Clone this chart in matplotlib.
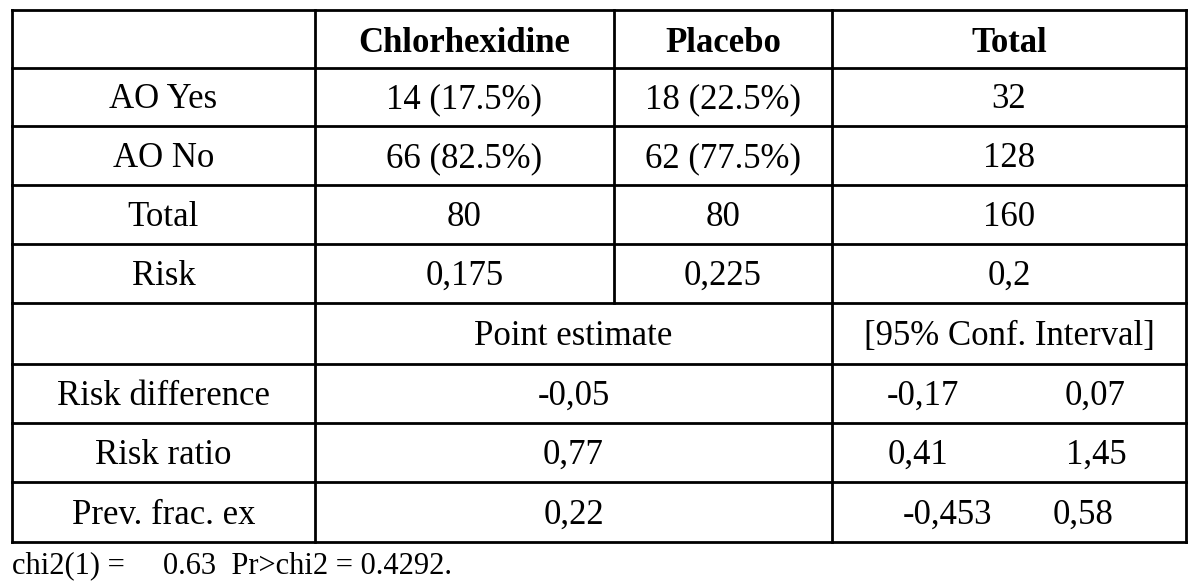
import matplotlib
matplotlib.use("Agg")
import matplotlib.pyplot as plt

# table content
col_headers = ["Chlorhexidine", "Placebo", "Total"]
row_labels = ["AO Yes", "AO No", "Total", "Risk"]
chlor_vals = ["14 (17.5%)", "66 (82.5%)", "80", "0,175"]
placebo_vals = ["18 (22.5%)", "62 (77.5%)", "80", "0,225"]
total_vals = ["32", "128", "160", "0,2"]

est_header = ["Point estimate", "[95% Conf. Interval]"]
est_labels = ["Risk difference", "Risk ratio", "Prev. frac. ex"]
point_est = ["-0,05", "0,77", "0,22"]
ci_low = ["-0,17", "0,41", "-0,453"]
ci_high = ["0,07", "1,45", "0,58"]

footnote = "chi2(1) =     0.63  Pr>chi2 = 0.4292."

# layout (pixel coordinates)
col_x = [12, 315, 614, 832, 1186]
row_y = [10, 68, 126, 185, 244, 303, 364, 423, 482, 542]
ci_low_x = [923, 918, 947]
ci_high_x = [1095, 1096, 1083]

plt.rcParams['font.family'] = ['Liberation Serif', 'DejaVu Serif']
fs = 25
base_off = 11.5  # baseline offset below the row centre

fig = plt.figure(figsize=(12, 5.85), dpi=100)
ax = fig.add_axes([0, 0, 1, 1])
ax.set_xlim(0, 1200)
ax.set_ylim(585, 0)
ax.axis("off")

lw = 2
# horizontal lines
for y in row_y:
    ax.plot([col_x[0], col_x[-1]], [y, y], color="black", lw=lw, solid_capstyle="projecting")
# vertical lines
top, mid, bot = row_y[0], row_y[5], row_y[-1]
for x in [col_x[0], col_x[1], col_x[3], col_x[4]]:
    ax.plot([x, x], [top, bot], color="black", lw=lw, solid_capstyle="projecting")
ax.plot([col_x[2], col_x[2]], [top, mid], color="black", lw=lw, solid_capstyle="projecting")


def cy(i):
    return (row_y[i] + row_y[i + 1]) / 2 + base_off


def cx(i):
    return (col_x[i] + col_x[i + 1]) / 2


def put(x, y, s, **kw):
    ax.text(x, y, s, ha="center", va="baseline", fontsize=fs, **kw)


# header row
for j, h in enumerate(col_headers):
    put(cx(j + 1), cy(0) + 1, h, fontweight="bold")

# upper body
for i, lab in enumerate(row_labels):
    r = i + 1
    put(cx(0), cy(r), lab)
    put(cx(1), cy(r), chlor_vals[i])
    put(cx(2), cy(r), placebo_vals[i])
    put(cx(3), cy(r), total_vals[i])

# estimates header
put((col_x[1] + col_x[3]) / 2, cy(5), est_header[0])
put(cx(3), cy(5), est_header[1])

# estimates body
for i, lab in enumerate(est_labels):
    r = i + 6
    put(cx(0), cy(r), lab)
    put((col_x[1] + col_x[3]) / 2, cy(r), point_est[i])
    put(ci_low_x[i], cy(r), ci_low[i])
    put(ci_high_x[i], cy(r), ci_high[i])

ax.text(12, 573, footnote, ha="left", va="baseline", fontsize=22)

fig.savefig("out.png", dpi=100, facecolor="white")
